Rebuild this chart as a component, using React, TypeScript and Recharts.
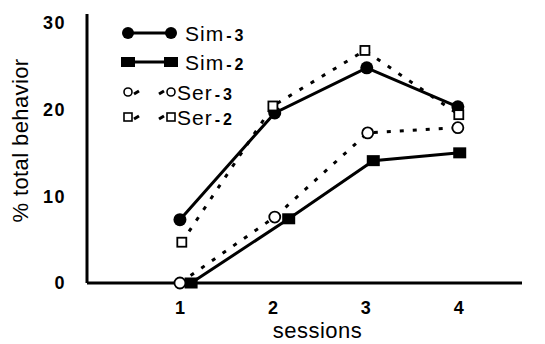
import React from "react";
import { LineChart, Line, XAxis, YAxis, Label } from "recharts";

const sessionTicks = [1, 2, 3, 4];
const yTicks = [0, 10, 20, 30];

const sim3X = [1.0, 2.02, 3.01, 3.99];
const sim3Y = [7.3, 19.6, 24.8, 20.3];
const sim2X = [1.12, 2.17, 3.08, 4.01];
const sim2Y = [0, 7.4, 14.1, 15.0];
const ser3X = [1.0, 2.02, 3.02, 3.99];
const ser3Y = [0, 7.6, 17.3, 17.9];
const ser2X = [1.02, 2.0, 2.99, 4.0];
const ser2Y = [4.7, 20.4, 26.8, 19.4];

const toRows = (xs: number[], ys: number[]) => xs.map((x, i) => ({ x, y: ys[i] }));
const sim3 = toRows(sim3X, sim3Y);
const sim2 = toRows(sim2X, sim2Y);
const ser3 = toRows(ser3X, ser3Y);
const ser2 = toRows(ser2X, ser2Y);

const FONT = "'Liberation Sans', Arial, Helvetica, sans-serif";

const FilledCircle = (p: any) => (
  <circle key={`fc-${p.index}`} cx={p.cx} cy={p.cy} r={6.5} fill="#000" stroke="none" />
);
const FilledSquare = (p: any) => (
  <rect key={`fs-${p.index}`} x={p.cx - 6.5} y={p.cy - 5.5} width={13} height={11} fill="#000" stroke="none" />
);
const OpenCircle = (p: any) => (
  <circle key={`oc-${p.index}`} cx={p.cx} cy={p.cy} r={5.5} fill="#fff" stroke="#000" strokeWidth={1.8} />
);
const OpenSquare = (p: any) => (
  <rect key={`os-${p.index}`} x={p.cx - 4.5} y={p.cy - 4.5} width={9} height={9} fill="#fff" stroke="#000" strokeWidth={1.8} />
);

const YTick = (p: any) => (
  <text x={p.x} y={p.y} dy="0.355em" textAnchor="end" fontFamily={FONT} fontWeight="bold" fontSize={18} letterSpacing={1.5} fill="#000">
    {p.payload.value}
  </text>
);
const XTick = (p: any) => (
  <text x={p.x} y={p.y} dy="0.71em" textAnchor="middle" fontFamily={FONT} fontWeight="bold" fontSize={18} fill="#000">
    {p.payload.value}
  </text>
);

const legendItems = [
  { name: "Sim", num: "3", kind: "fc", dashed: false },
  { name: "Sim", num: "2", kind: "fs", dashed: false },
  { name: "Ser", num: "3", kind: "oc", dashed: true },
  { name: "Ser", num: "2", kind: "os", dashed: true },
];
const rowY = [17, 46, 76, 101];

const LegendBox = () => (
  <svg width={170} height={120} style={{ position: "absolute", left: 113, top: 16, display: "block" }}>
    {legendItems.map((it, i) => {
      const y = rowY[i];
      const x1 = 15;
      const x2 = 58;
      const m = (cx: number) =>
        it.kind === "fc" ? (
          <circle cx={cx} cy={y} r={6} fill="#000" />
        ) : it.kind === "fs" ? (
          <rect x={cx - 7} y={y - 5} width={14} height={10} fill="#000" />
        ) : it.kind === "oc" ? (
          <circle cx={cx} cy={y} r={4} fill="#fff" stroke="#000" strokeWidth={1.6} />
        ) : (
          <rect x={cx - 4} y={y - 4} width={8} height={8} fill="#fff" stroke="#000" strokeWidth={1.6} />
        );
      return (
        <g key={i}>
          {it.dashed ? (
            <g stroke="#000" strokeWidth={3}>
              <line x1={x1 + 6} y1={y + 2} x2={x1 + 11} y2={y - 1} />
              <line x1={x2 - 12} y1={y + 2} x2={x2 - 7} y2={y - 1} />
            </g>
          ) : (
            <line x1={x1} y1={y} x2={x2} y2={y} stroke="#000" strokeWidth={3} />
          )}
          {m(x1)}
          {m(x2)}
          <text x={it.dashed ? 64 : 72} y={y} dy="0.36em" fontFamily={FONT} fontSize={21} letterSpacing={1} fill="#000">
            {it.name}
            <tspan fontSize={16} fontWeight="bold" dx={2}>-</tspan>
            <tspan fontSize={16} fontWeight="bold" dx={2}>{it.num}</tspan>
          </text>
        </g>
      );
    })}
  </svg>
);

export default function App() {
  return (
    <div style={{ position: "absolute", left: 0, top: 0, width: 545, height: 344, background: "#fff" }}>
      <LineChart width={545} height={344} margin={{ top: 14, right: 23, bottom: 0, left: 0 }}>
        <XAxis
          type="number"
          dataKey="x"
          domain={[0, 4.68]}
          ticks={sessionTicks}
          allowDataOverflow
          height={61}
          tickSize={0}
          tickMargin={18}
          tick={<XTick />}
          axisLine={{ stroke: "#000", strokeWidth: 3 }}
          tickLine={false}
        >
          <Label
            content={(props: any) => {
              const vb = props.viewBox;
              return (
                <text x={vb.x + vb.width / 2 + 13} y={vb.y + 55} textAnchor="middle" fontFamily={FONT} fontSize={22} letterSpacing={0.5} fill="#000">
                  sessions
                </text>
              );
            }}
          />
        </XAxis>
        <YAxis
          type="number"
          dataKey="y"
          domain={[0, 31]}
          ticks={yTicks}
          width={87}
          tickSize={0}
          tickMargin={21}
          tick={<YTick />}
          axisLine={{ stroke: "#000", strokeWidth: 3 }}
          tickLine={false}
        >
          <Label
            content={(props: any) => {
              const vb = props.viewBox;
              const cx = 20;
              const cy = vb.y + vb.height / 2 - 8;
              return (
                <text x={cx} y={cy} dy="0.36em" textAnchor="middle" transform={`rotate(-90 ${cx} ${cy})`} fontFamily={FONT} fontSize={22} letterSpacing={0.4} fill="#000">
                  % total behavior
                </text>
              );
            }}
          />
        </YAxis>
        <Line data={sim2} dataKey="y" name="Sim-2" type="linear" stroke="#000" strokeWidth={3} dot={<FilledSquare />} activeDot={false} isAnimationActive={false} />
        <Line data={sim3} dataKey="y" name="Sim-3" type="linear" stroke="#000" strokeWidth={3} dot={<FilledCircle />} activeDot={false} isAnimationActive={false} />
        <Line data={ser3} dataKey="y" name="Ser-3" type="linear" stroke="#000" strokeWidth={3} strokeDasharray="4 9" dot={<OpenCircle />} activeDot={false} isAnimationActive={false} />
        <Line data={ser2} dataKey="y" name="Ser-2" type="linear" stroke="#000" strokeWidth={3} strokeDasharray="4 9" dot={<OpenSquare />} activeDot={false} isAnimationActive={false} />
      </LineChart>
      <LegendBox />
    </div>
  );
}
